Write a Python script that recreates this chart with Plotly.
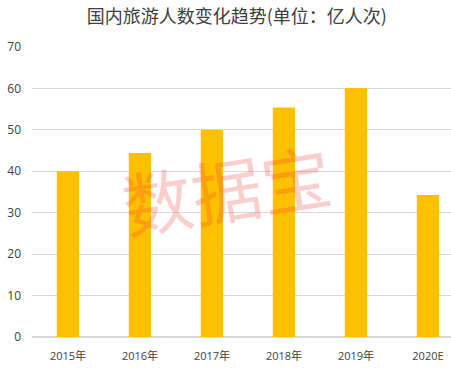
import plotly.graph_objects as go

categories = ["2015年", "2016年", "2017年", "2018年", "2019年", "2020E"]
values = [40.0, 44.4, 50.0, 55.4, 60.1, 34.3]
y_ticks = [0, 10, 20, 30, 40, 50, 60, 70]

fig = go.Figure(go.Bar(x=categories, y=values, marker=dict(color="#FFC000", line=dict(width=0)),
                       width=0.31))

fig.update_layout(
    width=451, height=371,
    margin=dict(l=32, r=0, t=47, b=34),
    paper_bgcolor="white", plot_bgcolor="white",
    showlegend=False,
    title=dict(text="国内旅游人数变化趋势(单位：亿人次)", x=0.525, xanchor="center", y=0.955, yanchor="middle",
               font=dict(family="Noto Sans CJK SC", size=18, color="#404040")),
    xaxis=dict(type="category", range=[-0.5, 5.32], showgrid=False, showline=False, ticks="",
               automargin=False,
               tickfont=dict(family="Open Sans, Noto Sans CJK SC", size=11, color="#404040"),
               ticklabelstandoff=11),
    yaxis=dict(range=[0, 70], tickvals=y_ticks, showgrid=True, gridcolor="#D9D9D9", gridwidth=1,
               automargin=False,
               zeroline=True, zerolinecolor="#D9D9D9", showline=False, ticks="",
               tickfont=dict(family="Open Sans", size=12, color="#404040"),
               ticklabelstandoff=10),
    annotations=[dict(text="数据宝", x=0.463, y=0.517, xref="paper", yref="paper", showarrow=False,
                      xanchor="center", yanchor="middle",
                      textangle=-9, font=dict(family="Noto Sans CJK SC", size=70, color="rgba(240,60,60,0.25)"))],
)

fig.write_html("out.html", config={"displayModeBar": False},
               post_script="document.body.style.margin='0';document.body.style.overflow='hidden';")
